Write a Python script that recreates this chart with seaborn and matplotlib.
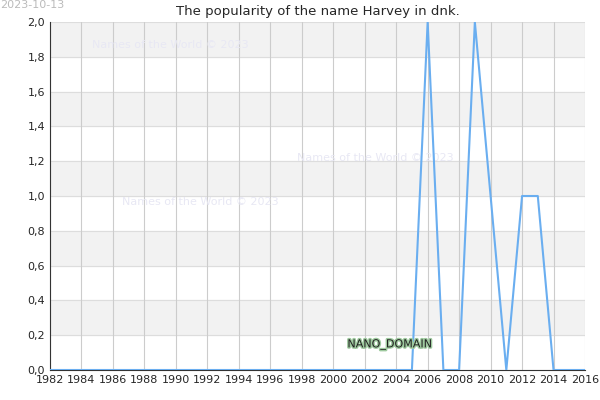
import matplotlib
matplotlib.use("Agg")
import matplotlib.pyplot as plt
import matplotlib.patheffects as pe
import seaborn as sns
import numpy as np

years = list(range(1982, 2017))
counts = [0] * len(years)
peaks = {2006: 2, 2009: 2, 2010: 1, 2012: 1, 2013: 1}
for y, v in peaks.items():
    counts[years.index(y)] = v

sns.set_style("white")
plt.rcParams['font.family'] = ['DejaVu Sans']
fig, ax = plt.subplots(figsize=(6, 4), dpi=100)
fig.subplots_adjust(left=50/600, right=585/600, top=1-22/400, bottom=1-370/400)

for i in range(10):
    if i % 2 == 1:
        ax.axhspan(i * 0.2, (i + 1) * 0.2, color="#f2f2f2", zorder=0)
for yv in np.arange(0, 2.01, 0.2):
    ax.axhline(yv, color="#dddddd", lw=0.8, zorder=0.5)
for xv in range(1982, 2017, 2):
    ax.axvline(xv, color="#cccccc", lw=0.8, zorder=0.5)

sns.lineplot(x=years, y=counts, ax=ax, color="#6aaef0", lw=1.5, zorder=3)

ax.set_xlim(1982, 2016)
ax.set_ylim(0, 2)
ax.set_xticks(range(1982, 2017, 2))
ax.set_yticks(np.arange(0, 2.01, 0.2))
ax.set_yticklabels([f"{v:.1f}".replace(".", ",") for v in np.arange(0, 2.01, 0.2)])
ax.tick_params(labelsize=8, length=0)
for s in ax.spines.values():
    s.set_visible(False)
ax.spines['bottom'].set_visible(True)
ax.spines['left'].set_visible(True)
ax.spines['bottom'].set_color("#333333")
ax.spines['left'].set_color("#333333")

ax.set_title("The popularity of the name Harvey in dnk.", fontsize=9.5, pad=5)
fig.text(0.0, 1.0, "2023-10-13", fontsize=8, color="#bbbbbb", va="top")
wm = dict(fontsize=8, color="#e8e8f4", zorder=1)
ax.text(1984.7, 1.85, "Names of the World © 2023", **wm)
ax.text(1997.7, 1.2, "Names of the World © 2023", **wm)
ax.text(1986.6, 0.95, "Names of the World © 2023", **wm)
ax.text(2000.9, 0.13, "NANO_DOMAIN", fontsize=8, color="#222222", zorder=4,
        path_effects=[pe.withStroke(linewidth=2, foreground="#9ec99e")])

fig.savefig("out.png", dpi=100)
